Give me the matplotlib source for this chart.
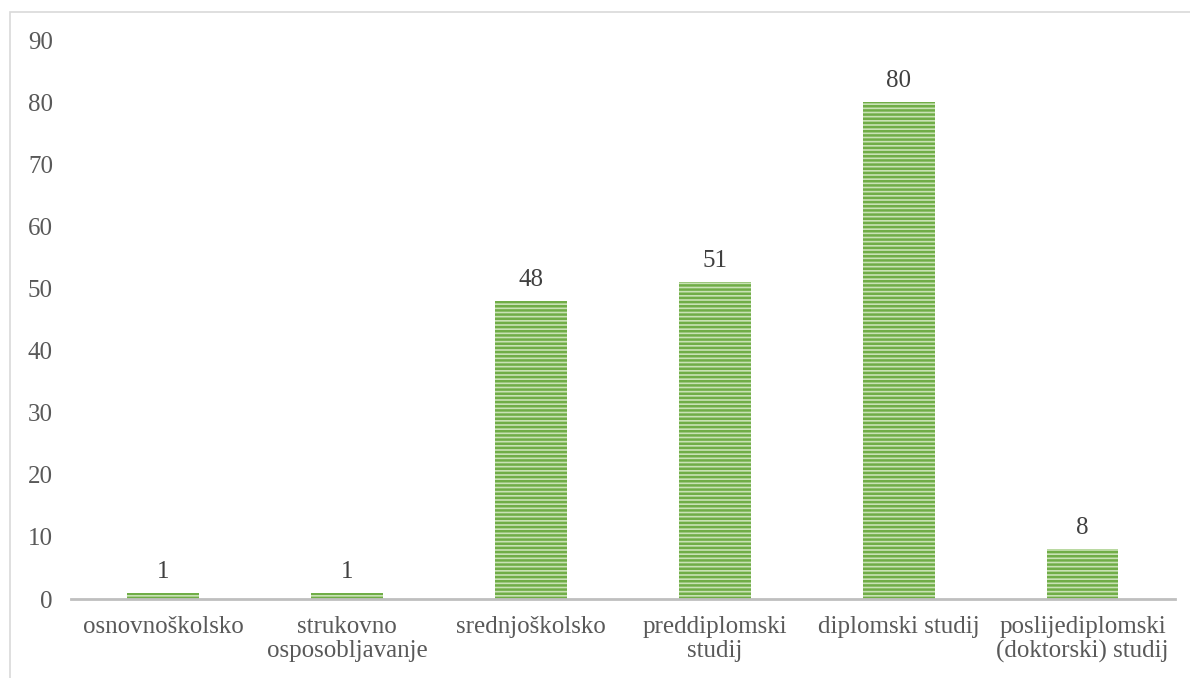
import matplotlib.pyplot as plt
from matplotlib.patches import Rectangle

plt.rcParams['font.family'] = ['Liberation Serif', 'DejaVu Serif']
plt.rcParams['hatch.linewidth'] = 1.8

categories = ["osnovnoškolsko", "strukovno\nosposobljavanje", "srednjoškolsko",
              "preddiplomski\nstudij", "diplomski studij",
              "poslijediplomski\n(doktorski) studij"]
values = [1, 1, 48, 51, 80, 8]
yticks = [0, 10, 20, 30, 40, 50, 60, 70, 80, 90]

fig = plt.figure(figsize=(11.9, 6.78), dpi=100)
ax = fig.add_axes([0.0597, 0.1165, 0.9273, 0.8245])

x = range(len(categories))
bars = ax.bar(x, values, width=0.39, color="#C9E2B5", edgecolor="#70AD47",
              hatch="----", linewidth=0)

for b, v in zip(bars, values):
    ax.text(b.get_x() + b.get_width() / 2, v + 1.6, str(v), ha="center",
            va="bottom", fontsize=18, color="#404040")

ax.set_xlim(-0.5, len(categories) - 0.5)
ax.set_ylim(0, 90)
ax.set_yticks(yticks)
ax.set_xticks(list(x))
ax.set_xticklabels(categories, fontsize=18, color="#595959", linespacing=1.12)
ax.tick_params(axis="y", length=0, labelsize=18, labelcolor="#595959", pad=13)
ax.tick_params(axis="x", length=0, pad=12)
for s in ["top", "right", "left"]:
    ax.spines[s].set_visible(False)
ax.spines["bottom"].set_color("#BFBFBF")
ax.spines["bottom"].set_linewidth(2)

# outer chart frame
fig.patches.append(Rectangle((10 / 1190, -0.01), 1.1, 1 - 12 / 678 + 0.01,
                             transform=fig.transFigure, fill=False,
                             edgecolor="#D9D9D9", linewidth=1.2))

fig.savefig("out.png", dpi=100)
